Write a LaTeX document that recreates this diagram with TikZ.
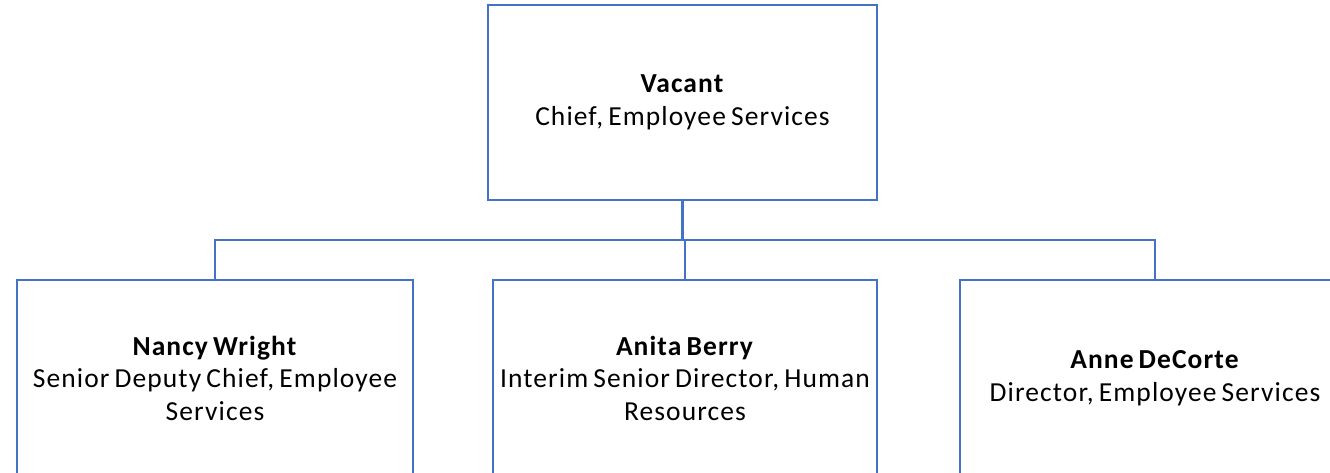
\documentclass[tikz,border=0pt]{standalone}
\usepackage{fontspec}
\setmainfont{Carlito}[LetterSpace=4,WordSpace=0.7]
\definecolor{orgblue}{HTML}{4472C4}
\begin{document}
\begin{tikzpicture}[x=1pt,y=1pt,
  orgbox/.style={draw=orgblue,line width=2.8pt,fill=white,rectangle,inner sep=0pt,
    align=center,font=\fontsize{27.5}{32.5}\selectfont},
  link/.style={draw=orgblue,line width=2.8pt}]
\useasboundingbox (0,0) rectangle (1330,-472);
\node[orgbox,minimum width=389pt,minimum height=195pt] (top) at (682.5,-102.5)
  {\textbf{Vacant}\\Chief, Employee Services};
\node[orgbox,minimum width=396pt,minimum height=196pt] (left) at (215,-378)
  {\textbf{Nancy Wright}\\Senior Deputy Chief, Employee\\Services};
\node[orgbox,minimum width=384pt,minimum height=196pt] (mid) at (685,-378)
  {\textbf{Anita Berry}\\Interim Senior Director, Human\\Resources};
\node[orgbox,minimum width=390pt,minimum height=196pt] (right) at (1155,-378)
  {\textbf{Anne DeCorte}\\Director, Employee Services};
\coordinate (bus) at (215,-240);
\draw[link] (top.south) -- (top.south |- bus);
\draw[link] (left.north) -- (left.north |- bus) -- (right.north |- bus) -- (right.north);
\draw[link] (mid.north) -- (mid.north |- bus);
\end{tikzpicture}
\end{document}
